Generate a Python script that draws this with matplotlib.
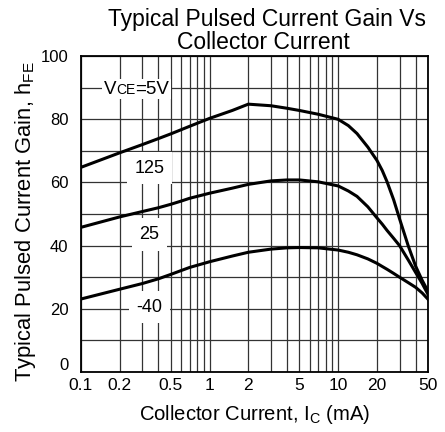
import matplotlib
matplotlib.use("Agg")
import matplotlib.pyplot as plt
import matplotlib.transforms as mtransforms
from matplotlib.ticker import FixedLocator, NullFormatter, LogLocator
from matplotlib.offsetbox import TextArea, HPacker, AnnotationBbox

plt.rcParams.update({"font.family": "Liberation Sans", "mathtext.default": "regular"})

# collector current (mA) and typical hFE at VCE = 5 V
ic = [0.1, 0.2, 0.3, 0.4, 0.5, 0.6, 0.7, 1, 1.5, 2, 3, 4, 5, 7, 10,
      12, 14, 17, 20, 22, 24, 27, 30, 35, 40, 45, 50]
hfe_125 = [64.8, 69.4, 72.0, 73.9, 75.4, 76.7, 77.8, 80.3, 82.8, 84.8, 84.3, 83.5, 82.8, 81.6, 80.0,
           78.0, 75.5, 71.2, 67.0, 63.8, 60.2, 54.5, 48.5, 40.0, 33.5, 29.0, 25.5]
hfe_25 = [45.8, 49.1, 50.8, 52.0, 53.1, 54.1, 55.0, 56.6, 58.2, 59.4, 60.5, 60.8, 60.8, 60.2, 58.9,
          57.3, 55.6, 52.3, 48.8, 46.8, 44.8, 42.3, 40.0, 35.5, 31.5, 28.0, 24.5]
hfe_m40 = [23.1, 26.2, 28.0, 29.5, 30.9, 32.1, 33.1, 34.9, 36.7, 37.9, 38.9, 39.3, 39.4, 39.3, 38.6,
           37.9, 37.1, 35.8, 34.4, 33.4, 32.5, 31.2, 30.0, 28.3, 26.8, 25.0, 23.0]
temps = ["125", "25", "-40"]
label_y = [64.5, 43.5, 20.5]
xticks = [0.1, 0.2, 0.5, 1, 2, 5, 10, 20, 50]
xticklabels = ["0.1", "0.2", "0.5", "1", "2", "5", "10", "20", "50"]
yticks = [0, 20, 40, 60, 80, 100]

fig = plt.figure(figsize=(4.45, 4.32), dpi=100)
ax = fig.add_axes([0.182, 0.139, 0.780, 0.731])

for h in (hfe_125, hfe_25, hfe_m40):
    ax.plot(ic, h, color="black", lw=2.2, zorder=3, solid_joinstyle="round")

ax.set_xscale("log")
ax.set_xlim(0.1, 50)
ax.set_ylim(0, 100)
ax.xaxis.set_major_locator(FixedLocator(xticks))
ax.set_xticklabels(xticklabels)
ax.xaxis.set_minor_locator(LogLocator(base=10, subs=range(2, 10), numticks=20))
ax.xaxis.set_minor_formatter(NullFormatter())
ax.set_yticks(yticks)
ax.yaxis.set_minor_locator(FixedLocator(range(0, 101, 10)))
ax.grid(True, which="both", color="0.2", lw=0.9, zorder=1)
ax.tick_params(which="both", length=0)
ax.tick_params(axis="x", labelsize=12.5, pad=4)
ax.tick_params(axis="y", labelsize=12, pad=9)
for s in ax.spines.values():
    s.set_linewidth(1.3)
    s.set_zorder(4)
# the "0" label sits just above the corner so it clears "0.1"
lab0 = ax.get_yticklabels()[0]
lab0.set_transform(lab0.get_transform() + mtransforms.ScaledTranslation(0, 6 / 72, fig.dpi_scale_trans))

# temperature labels on white patches
for t, y in zip(temps, label_y):
    ax.text(0.34, y, t, fontsize=13, ha="center", va="center", zorder=2,
            bbox=dict(boxstyle="square,pad=0.42", fc="white", ec="none"))

vce = HPacker(children=[TextArea("V", textprops=dict(fontsize=13.5)),
                        TextArea("CE", textprops=dict(fontsize=10)),
                        TextArea("=5V", textprops=dict(fontsize=13.5))],
              align="baseline", pad=0, sep=0)
ab = AnnotationBbox(vce, (0.27, 89.5), frameon=True, pad=0.1, zorder=2,
                    bboxprops=dict(fc="white", ec="none"))
ax.add_artist(ab)

fig.text(0.600, 0.9405, "Typical Pulsed Current Gain Vs", ha="center", va="baseline", fontsize=16.5)
fig.text(0.592, 0.886, "Collector Current", ha="center", va="baseline", fontsize=16.5)
fig.text(0.573, 0.028, r"Collector Current, I$_{C}$ (mA)", ha="center", va="baseline", fontsize=14.6)
fig.text(0.058, 0.488, r"Typical Pulsed Current Gain, h$_{FE}$", ha="center", va="center",
         rotation=90, fontsize=15.8)

fig.savefig("out.png", dpi=100)
